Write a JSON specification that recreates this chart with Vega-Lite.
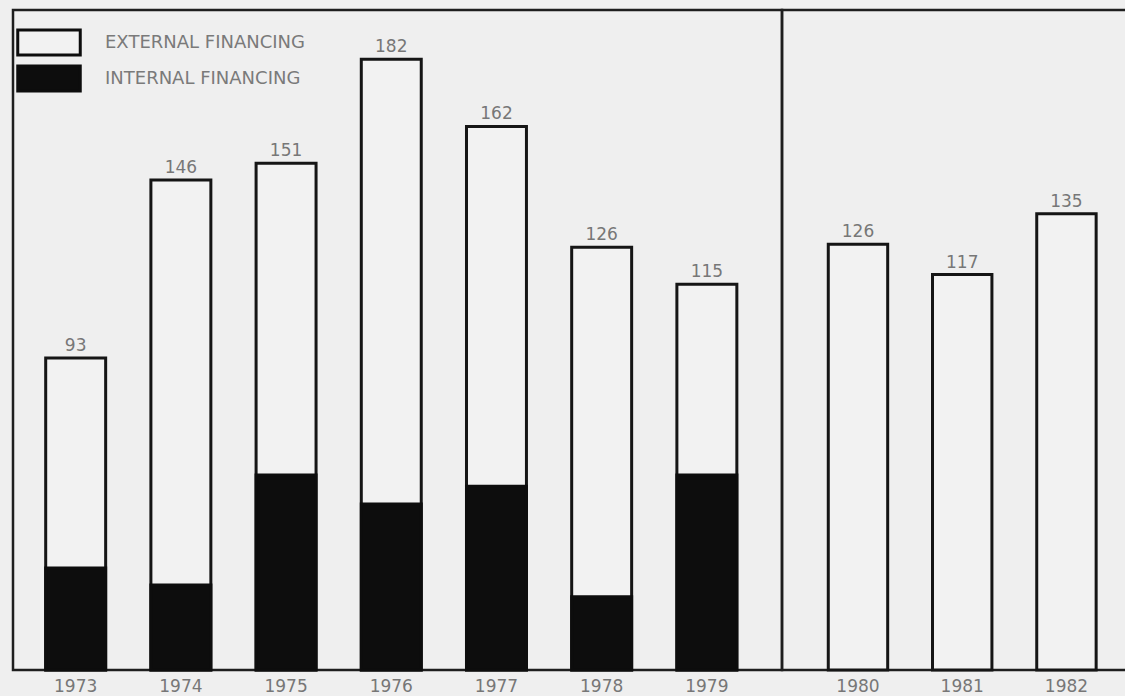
{
  "$schema": "https://vega.github.io/schema/vega-lite/v6.json",
  "background": "#efefef",
  "padding": {"left": 11, "top": 8, "right": 0, "bottom": 0},
  "spacing": 0,
  "bounds": "flush",
  "datasets": {
    "financing": [
      {"year": "1973", "total": 93, "internal": 30.4},
      {"year": "1974", "total": 146, "internal": 25.3},
      {"year": "1975", "total": 151, "internal": 58.1},
      {"year": "1976", "total": 182, "internal": 49.5},
      {"year": "1977", "total": 162, "internal": 54.8},
      {"year": "1978", "total": 126, "internal": 21.8},
      {"year": "1979", "total": 115, "internal": 58.1},
      {"year": "1980", "total": 126, "internal": null},
      {"year": "1981", "total": 117, "internal": null},
      {"year": "1982", "total": 135, "internal": null}
    ]
  },
  "config": {
    "view": {"stroke": "#1e1e1e", "strokeWidth": 2.5},
    "axisX": {
      "title": null, "domain": false, "ticks": false, "grid": false,
      "labelAngle": 0, "labelFont": "DejaVu Sans", "labelFontSize": 17,
      "labelColor": "#777777", "labelPadding": 8
    },
    "text": {"font": "DejaVu Sans", "fontSize": 17, "color": "#777777"}
  },
  "resolve": {
    "scale": {"x": "independent", "y": "independent", "color": "shared"},
    "legend": {"color": "shared"}
  },
  "hconcat": [
    {
      "width": 769,
      "height": 660,
      "data": {"name": "financing"},
      "transform": [{"filter": "toNumber(datum.year) <= 1979"}],
      "encoding": {
        "x": {
          "field": "year", "type": "ordinal",
          "scale": {"paddingInner": 0.43, "paddingOuter": 0.37, "align": 0.42}
        }
      },
      "layer": [
        {
          "mark": {"type": "bar", "stroke": "#151515", "strokeWidth": 3},
          "encoding": {
            "y": {"field": "total", "type": "quantitative", "axis": null,
                  "scale": {"domain": [0, 196.7], "nice": false}},
            "color": {
              "datum": "EXTERNAL FINANCING",
              "scale": {"domain": ["EXTERNAL FINANCING", "INTERNAL FINANCING"],
                        "range": ["#f2f2f2", "#0d0d0d"]},
              "legend": {
                "orient": "none", "legendX": 22, "legendY": 18.5, "title": null,
                "symbolType": "M-2.5,-1H2.5V1H-2.5Z", "symbolSize": 625,
                "symbolStrokeColor": "#151515", "symbolStrokeWidth": 3,
                "symbolOpacity": 1, "labelOffset": 42, "rowPadding": -2,
                "labelFont": "DejaVu Sans", "labelFontSize": 18,
                "labelLimit": 400, "labelColor": "#7a7a7a"
              }
            }
          }
        },
        {
          "mark": {"type": "bar", "stroke": "#0d0d0d", "strokeWidth": 3},
          "encoding": {
            "y": {"field": "internal", "type": "quantitative"},
            "color": {"datum": "INTERNAL FINANCING"}
          }
        },
        {
          "mark": {"type": "text", "baseline": "alphabetic", "dy": -7},
          "encoding": {
            "y": {"field": "total", "type": "quantitative"},
            "text": {"field": "total", "type": "quantitative"}
          }
        }
      ]
    },
    {
      "width": 345,
      "height": 660,
      "data": {"name": "financing"},
      "transform": [{"filter": "toNumber(datum.year) >= 1980"}],
      "encoding": {
        "x": {
          "field": "year", "type": "ordinal",
          "scale": {"paddingInner": 0.43, "paddingOuter": 0.37, "align": 0.6}
        }
      },
      "layer": [
        {
          "mark": {"type": "bar", "stroke": "#151515", "strokeWidth": 3},
          "encoding": {
            "y": {"field": "total", "type": "quantitative", "axis": null,
                  "scale": {"domain": [0, 195.3], "nice": false}},
            "color": {"datum": "EXTERNAL FINANCING"}
          }
        },
        {
          "mark": {"type": "text", "baseline": "alphabetic", "dy": -7},
          "encoding": {
            "y": {"field": "total", "type": "quantitative"},
            "text": {"field": "total", "type": "quantitative"}
          }
        }
      ]
    }
  ]
}
